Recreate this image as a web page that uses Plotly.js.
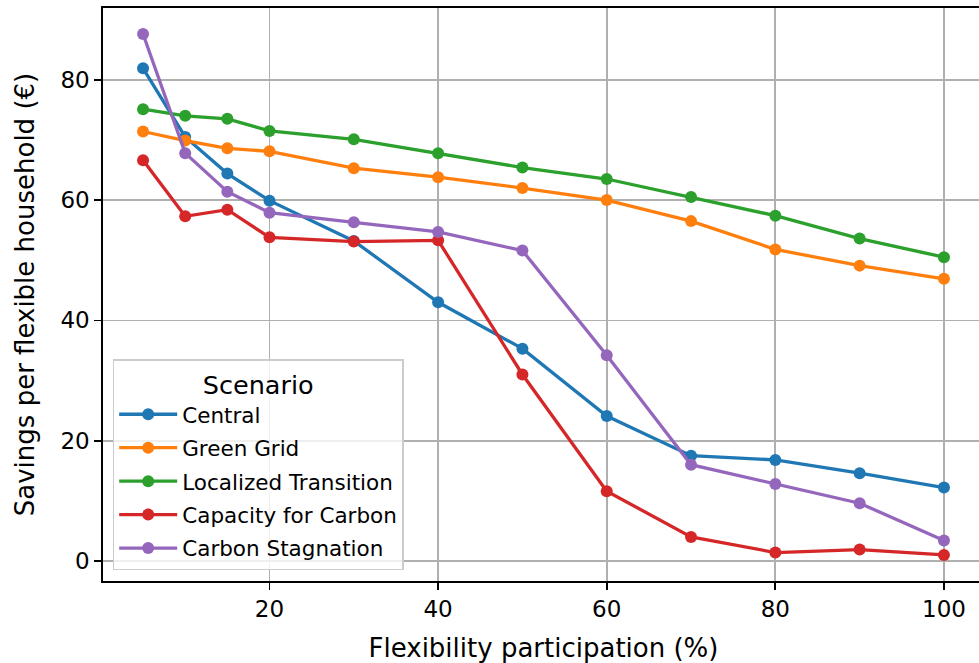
<!DOCTYPE html>
<html>
<head>
<meta charset="utf-8">
<script src="https://cdn.plot.ly/plotly-3.0.1.min.js"></script>
<style>
html, body { margin: 0; padding: 0; overflow: hidden; background: #fff; }
#chart { width: 986px; height: 663px; }
</style>
</head>
<body>
<div id="chart"></div>
<script>
const participation = [5, 10, 15, 20, 30, 40, 50, 60, 70, 80, 90, 100];
const scenarioNames = ["Central", "Green Grid", "Localized Transition", "Capacity for Carbon", "Carbon Stagnation"];
const central = [81.9, 70.5, 64.4, 59.9, 53.2, 43.0, 35.3, 24.1, 17.5, 16.8, 14.6, 12.2];
const greenGrid = [71.4, 69.9, 68.6, 68.1, 65.3, 63.8, 62.0, 60.0, 56.5, 51.8, 49.1, 46.9];
const localizedTransition = [75.1, 74.0, 73.5, 71.5, 70.1, 67.8, 65.4, 63.5, 60.5, 57.4, 53.6, 50.5];
const capacityForCarbon = [66.6, 57.3, 58.4, 53.8, 53.1, 53.3, 31.0, 11.6, 4.0, 1.4, 1.9, 1.0];
const carbonStagnation = [87.6, 67.8, 61.4, 57.9, 56.3, 54.7, 51.6, 34.2, 16.0, 12.8, 9.6, 3.4];
const xTicks = [20, 40, 60, 80, 100];
const yTicks = [0, 20, 40, 60, 80];

const seriesValues = [central, greenGrid, localizedTransition, capacityForCarbon, carbonStagnation];
const colors = ["#1f77b4", "#ff7f0e", "#2ca02c", "#d62728", "#9467bd"];
const FONT = "DejaVu Sans, Liberation Sans, sans-serif";

const traces = seriesValues.map((vals, i) => ({
  type: "scatter",
  mode: "lines+markers",
  name: scenarioNames[i],
  legendgroup: "g" + i,
  x: participation,
  y: vals,
  line: { color: colors[i], width: 3.3 },
  marker: { color: colors[i], size: 12 }
}));

const layout = {
  width: 986,
  height: 663,
  margin: { l: 103, r: 2, t: 8, b: 82 },
  paper_bgcolor: "#ffffff",
  plot_bgcolor: "#ffffff",
  font: { family: FONT, color: "#000000", size: 23 },
  showlegend: true,
  xaxis: {
    range: [0.25, 104.75],
    tickvals: xTicks,
    ticktext: xTicks.map(String),
    showgrid: true, gridcolor: "#b0b0b0", gridwidth: 1.7,
    zeroline: false,
    showline: true, linecolor: "#000000", linewidth: 1.7, mirror: true,
    ticks: "outside", ticklen: 7, tickwidth: 1.7, tickcolor: "#000000",
    tickfont: { family: FONT, size: 23, color: "#000000" },
    title: { text: "Flexibility participation (%)", font: { family: FONT, size: 26, color: "#000000" }, standoff: 17 },
    automargin: false
  },
  yaxis: {
    range: [-3.33, 91.93],
    tickvals: yTicks,
    ticktext: yTicks.map(String),
    showgrid: true, gridcolor: "#b0b0b0", gridwidth: 1.7,
    zeroline: false,
    showline: true, linecolor: "#000000", linewidth: 1.7, mirror: true,
    ticks: "outside", ticklen: 7, tickwidth: 1.7, tickcolor: "#000000",
    tickfont: { family: FONT, size: 23, color: "#000000" },
    title: { text: "Savings per flexible household (€)", font: { family: FONT, size: 26, color: "#000000" }, standoff: 18 },
    automargin: false
  },
  legend: {
    x: 0.011, y: 0.019, xanchor: "left", yanchor: "bottom",
    bgcolor: "rgba(255,255,255,0.8)",
    bordercolor: "#cccccc", borderwidth: 1.5,
    font: { family: FONT, size: 21.5, color: "#000000" },
    title: { text: "Scenario", side: "top center", font: { family: FONT, size: 25.5, color: "#000000" } },
    itemwidth: 58,
    tracegroupgap: 2.5
  }
};

Plotly.newPlot("chart", traces, layout, { displayModeBar: false, staticPlot: true });
</script>
</body>
</html>
